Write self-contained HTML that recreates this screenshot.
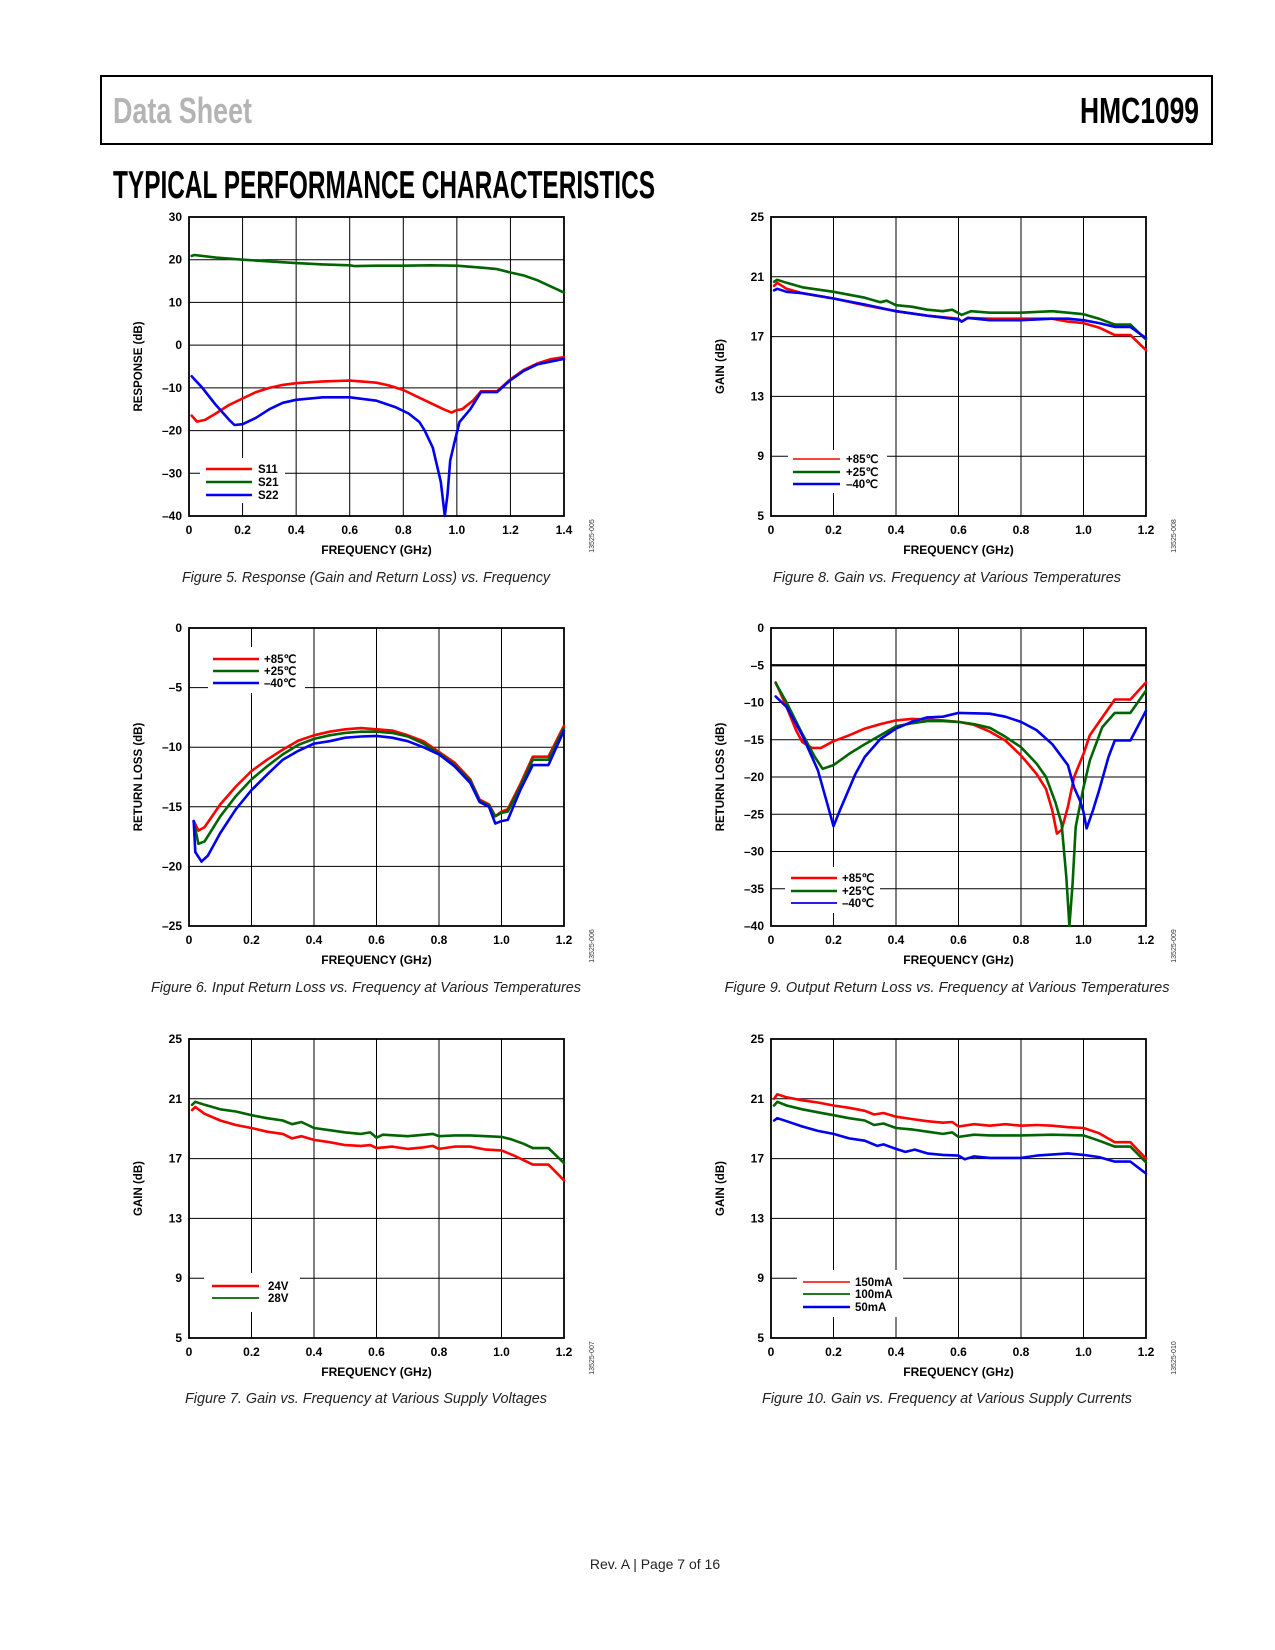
<!DOCTYPE html>
<html><head><meta charset="utf-8"><title>HMC1099 Data Sheet – Typical Performance Characteristics</title>
<style>
html,body{margin:0;padding:0;background:#fff;}
svg{display:block;}
text{font-family:"Liberation Sans",Arial,sans-serif;}
</style></head>
<body>
<svg id="page" width="1275" height="1650" viewBox="0 0 1275 1650" xmlns="http://www.w3.org/2000/svg">
<rect x="101" y="76" width="1111" height="68" fill="none" stroke="#000" stroke-width="2"/>
<text x="113" y="123" font-size="36" font-weight="bold" fill="#b4b4b4" textLength="139" lengthAdjust="spacingAndGlyphs">Data Sheet</text>
<text x="1080" y="123" font-size="36" font-weight="bold" fill="#000" textLength="119" lengthAdjust="spacingAndGlyphs">HMC1099</text>
<text x="113" y="198" font-size="39" font-weight="bold" fill="#000" textLength="542" lengthAdjust="spacingAndGlyphs">TYPICAL PERFORMANCE CHARACTERISTICS</text>
<text x="655" y="1569" font-size="14" fill="#222" text-anchor="middle">Rev. A | Page 7 of 16</text>
</svg>
<script>
// ---------- Figure 5 data ----------
const fig5XTicks=[0,0.2,0.4,0.6,0.8,1.0,1.2,1.4];
const fig5XLabels=["0","0.2","0.4","0.6","0.8","1.0","1.2","1.4"];
const fig5YTicks=[-40,-30,-20,-10,0,10,20,30];
const fig5YLabels=["–40","–30","–20","–10","0","10","20","30"];
const fig5S21F=[0.01,0.02,0.1,0.2,0.3,0.4,0.5,0.6,0.62,0.7,0.8,0.9,1.0,1.1,1.15,1.2,1.25,1.3,1.4];
const fig5S21V=[20.9,21.1,20.5,20.0,19.6,19.2,18.9,18.7,18.5,18.6,18.6,18.7,18.6,18.1,17.8,17.0,16.3,15.2,12.3];
const fig5S11F=[0.01,0.03,0.06,0.1,0.15,0.2,0.25,0.3,0.35,0.4,0.5,0.6,0.7,0.75,0.8,0.85,0.9,0.95,0.98,1.0,1.02,1.06,1.09,1.15,1.2,1.25,1.3,1.35,1.4];
const fig5S11V=[-16.5,-17.9,-17.5,-16.0,-14.0,-12.5,-11.0,-10.0,-9.3,-8.9,-8.5,-8.3,-8.8,-9.5,-10.5,-12.0,-13.5,-15.0,-15.8,-15.2,-15.0,-13.0,-10.8,-10.8,-8.0,-5.8,-4.3,-3.3,-2.8];
const fig5S22F=[0.01,0.05,0.1,0.15,0.17,0.2,0.25,0.3,0.35,0.4,0.5,0.6,0.7,0.77,0.82,0.86,0.88,0.91,0.94,0.955,0.965,0.975,0.99,1.01,1.05,1.09,1.15,1.2,1.25,1.3,1.4];
const fig5S22V=[-7.3,-10.0,-14.0,-17.5,-18.7,-18.5,-17.0,-15.0,-13.5,-12.8,-12.2,-12.2,-13.0,-14.5,-16.0,-18.0,-20.0,-24.0,-32.0,-40.0,-35.0,-27.0,-23.0,-18.0,-15.0,-11.0,-11.0,-8.2,-6.0,-4.5,-3.2];

// ---------- Figure 8 data ----------
const gainXTicks=[0,0.2,0.4,0.6,0.8,1.0,1.2];
const gainXLabels=["0","0.2","0.4","0.6","0.8","1.0","1.2"];
const gainYTicks=[5,9,13,17,21,25];
const gainYLabels=["5","9","13","17","21","25"];
const fig8RedF=[0.01,0.02,0.05,0.1,0.2,0.3,0.35,0.4,0.5,0.6,0.61,0.63,0.7,0.8,0.9,0.95,1.0,1.05,1.1,1.15,1.2];
const fig8RedV=[20.4,20.6,20.2,19.9,19.55,19.1,18.9,18.7,18.4,18.2,18.0,18.25,18.2,18.2,18.2,18.0,17.9,17.6,17.1,17.1,16.1];
const fig8GreenF=[0.01,0.02,0.05,0.1,0.2,0.3,0.35,0.37,0.4,0.45,0.5,0.55,0.58,0.61,0.64,0.7,0.8,0.9,1.0,1.05,1.1,1.15,1.2];
const fig8GreenV=[20.67,20.8,20.6,20.3,20.0,19.6,19.3,19.4,19.1,19.0,18.8,18.7,18.8,18.45,18.7,18.6,18.6,18.7,18.5,18.2,17.8,17.8,16.8];
const fig8BlueF=[0.01,0.02,0.05,0.1,0.2,0.3,0.4,0.5,0.6,0.61,0.63,0.7,0.8,0.9,0.95,1.0,1.05,1.1,1.15,1.2];
const fig8BlueV=[20.1,20.2,20.0,19.9,19.55,19.15,18.7,18.4,18.15,18.0,18.25,18.1,18.1,18.2,18.2,18.1,17.9,17.65,17.65,16.9];

// ---------- Figure 6 data ----------
const fig6XTicks=[0,0.2,0.4,0.6,0.8,1.0,1.2];
const fig6XLabels=["0","0.2","0.4","0.6","0.8","1.0","1.2"];
const fig6YTicks=[-25,-20,-15,-10,-5,0];
const fig6YLabels=["–25","–20","–15","–10","–5","0"];
const fig6RedF=[0.015,0.03,0.05,0.1,0.15,0.2,0.25,0.3,0.35,0.4,0.45,0.5,0.55,0.6,0.65,0.7,0.75,0.8,0.85,0.9,0.93,0.96,0.98,1.0,1.02,1.06,1.1,1.15,1.2];
const fig6RedV=[-16.2,-17.0,-16.7,-14.8,-13.3,-12.0,-11.05,-10.2,-9.45,-9.0,-8.7,-8.5,-8.4,-8.5,-8.6,-9.0,-9.5,-10.4,-11.3,-12.7,-14.4,-14.8,-15.8,-15.4,-15.2,-13.1,-10.8,-10.8,-8.2];
const fig6GreenF=[0.015,0.03,0.05,0.1,0.15,0.2,0.25,0.3,0.35,0.4,0.45,0.5,0.55,0.6,0.65,0.7,0.75,0.8,0.85,0.9,0.93,0.96,0.98,1.0,1.02,1.06,1.1,1.15,1.2];
const fig6GreenV=[-16.2,-18.1,-17.9,-15.8,-14.1,-12.7,-11.6,-10.6,-9.8,-9.3,-9.0,-8.8,-8.7,-8.7,-8.8,-9.1,-9.7,-10.5,-11.5,-12.8,-14.5,-14.9,-15.8,-15.5,-15.4,-13.3,-11.05,-11.05,-8.4];
const fig6BlueF=[0.015,0.02,0.04,0.06,0.1,0.15,0.2,0.25,0.3,0.35,0.4,0.45,0.5,0.55,0.6,0.65,0.7,0.75,0.8,0.85,0.9,0.93,0.96,0.98,1.0,1.02,1.06,1.1,1.15,1.2];
const fig6BlueV=[-16.2,-18.8,-19.6,-19.1,-17.2,-15.2,-13.6,-12.3,-11.05,-10.3,-9.7,-9.5,-9.2,-9.1,-9.05,-9.2,-9.5,-10.0,-10.6,-11.6,-13.0,-14.6,-15.0,-16.4,-16.2,-16.1,-13.6,-11.5,-11.5,-8.6];

// ---------- Figure 9 data ----------
const fig9XTicks=[0,0.2,0.4,0.6,0.8,1.0,1.2];
const fig9XLabels=["0","0.2","0.4","0.6","0.8","1.0","1.2"];
const fig9YTicks=[-40,-35,-30,-25,-20,-15,-10,-5,0];
const fig9YLabels=["–40","–35","–30","–25","–20","–15","–10","–5","0"];
const fig9RedF=[0.015,0.05,0.08,0.1,0.13,0.16,0.2,0.25,0.3,0.35,0.4,0.45,0.5,0.55,0.6,0.65,0.7,0.75,0.8,0.85,0.88,0.9,0.915,0.93,0.95,0.97,1.0,1.02,1.06,1.1,1.15,1.2];
const fig9RedV=[-7.3,-10.6,-13.7,-15.3,-16.1,-16.1,-15.2,-14.4,-13.5,-12.9,-12.4,-12.2,-12.3,-12.4,-12.6,-13.0,-13.9,-15.1,-17.1,-19.6,-21.6,-24.5,-27.6,-27.1,-24.0,-20.0,-16.9,-14.4,-12.0,-9.6,-9.6,-7.3];
const fig9GreenF=[0.015,0.05,0.1,0.14,0.165,0.2,0.25,0.3,0.35,0.4,0.45,0.5,0.55,0.6,0.65,0.7,0.75,0.8,0.85,0.88,0.91,0.93,0.945,0.955,0.965,0.975,1.0,1.02,1.06,1.1,1.15,1.2];
const fig9GreenV=[-7.4,-10.0,-14.2,-17.3,-18.9,-18.4,-16.9,-15.6,-14.4,-13.2,-12.8,-12.5,-12.5,-12.6,-12.9,-13.4,-14.6,-16.0,-18.2,-20.0,-23.4,-26.3,-33.4,-40.0,-34.3,-26.7,-21.4,-17.8,-13.3,-11.4,-11.4,-8.4];
const fig9BlueF=[0.015,0.05,0.1,0.15,0.18,0.2,0.22,0.27,0.3,0.35,0.4,0.45,0.5,0.55,0.6,0.7,0.75,0.8,0.85,0.9,0.95,0.97,0.99,1.0,1.01,1.03,1.05,1.08,1.1,1.15,1.2];
const fig9BlueV=[-9.2,-10.6,-14.4,-19.1,-23.6,-26.6,-24.5,-19.6,-17.3,-14.9,-13.5,-12.6,-12.0,-11.9,-11.4,-11.5,-11.9,-12.6,-13.7,-15.6,-18.4,-21.4,-23.3,-24.7,-26.9,-24.5,-21.8,-17.3,-15.1,-15.1,-11.1];

// ---------- Figure 7 data ----------
const fig7RedF=[0.01,0.02,0.05,0.1,0.15,0.2,0.25,0.3,0.33,0.36,0.4,0.45,0.5,0.55,0.58,0.6,0.65,0.7,0.75,0.78,0.8,0.85,0.9,0.95,1.0,1.04,1.1,1.15,1.2];
const fig7RedV=[20.25,20.45,20.0,19.55,19.25,19.05,18.8,18.65,18.35,18.5,18.25,18.1,17.9,17.85,17.9,17.7,17.8,17.65,17.75,17.85,17.65,17.8,17.8,17.6,17.55,17.2,16.6,16.6,15.55];
const fig7GreenF=[0.01,0.02,0.05,0.1,0.15,0.2,0.25,0.3,0.33,0.36,0.4,0.45,0.5,0.55,0.58,0.6,0.62,0.7,0.78,0.8,0.85,0.9,1.0,1.03,1.07,1.1,1.15,1.2];
const fig7GreenV=[20.6,20.8,20.6,20.3,20.15,19.9,19.7,19.55,19.3,19.45,19.05,18.9,18.75,18.65,18.75,18.4,18.6,18.5,18.65,18.5,18.55,18.55,18.45,18.3,18.0,17.7,17.7,16.7];

// ---------- Figure 10 data ----------
const fig10RedF=[0.01,0.02,0.05,0.1,0.15,0.2,0.25,0.3,0.33,0.36,0.4,0.45,0.5,0.55,0.58,0.6,0.65,0.7,0.75,0.8,0.85,0.9,0.95,1.0,1.05,1.1,1.15,1.2];
const fig10RedV=[21.0,21.3,21.1,20.9,20.75,20.55,20.4,20.2,19.95,20.05,19.8,19.65,19.5,19.4,19.45,19.15,19.3,19.2,19.3,19.2,19.25,19.2,19.1,19.05,18.7,18.1,18.1,17.0];
const fig10GreenF=[0.01,0.02,0.05,0.1,0.15,0.2,0.25,0.3,0.33,0.36,0.4,0.45,0.5,0.55,0.58,0.6,0.65,0.7,0.8,0.9,1.0,1.05,1.1,1.15,1.2];
const fig10GreenV=[20.55,20.8,20.55,20.3,20.1,19.9,19.7,19.55,19.25,19.35,19.05,18.95,18.8,18.65,18.75,18.45,18.6,18.55,18.55,18.6,18.55,18.2,17.8,17.8,16.75];
const fig10BlueF=[0.01,0.02,0.05,0.1,0.15,0.2,0.25,0.3,0.34,0.36,0.4,0.43,0.46,0.5,0.55,0.6,0.62,0.65,0.7,0.75,0.8,0.85,0.95,1.0,1.05,1.1,1.15,1.2];
const fig10BlueV=[19.55,19.7,19.5,19.15,18.85,18.65,18.35,18.2,17.85,17.95,17.65,17.45,17.6,17.35,17.25,17.2,16.95,17.15,17.05,17.05,17.05,17.2,17.35,17.25,17.1,16.8,16.8,16.0];

const RED="#ff0000",GREEN="#006400",BLUE="#0000ee";
const NS="http://www.w3.org/2000/svg";
const svg=document.getElementById('page');
function mk(tag,attrs,parent){const e=document.createElementNS(NS,tag);for(const k in attrs)e.setAttribute(k,attrs[k]);(parent||svg).appendChild(e);return e;}

function drawChart(c){
  const g=mk('g',{});
  
  
  const L=c.l,R=c.r,T=c.t,B=c.b;
  const sx=f=>L+(f-c.xMin)/(c.xMax-c.xMin)*(R-L);
  const sy=v=>B-(v-c.yMin)/(c.yMax-c.yMin)*(B-T);
  c.xTicks.forEach((t,i)=>{
    const ln=mk('line',{x1:sx(t),x2:sx(t),y1:T,y2:B,stroke:'#000','stroke-width':1},g);
    
    
    const tx=mk('text',{x:sx(t),y:B+18,'font-size':12,'font-weight':'bold','text-anchor':'middle'},g);
    tx.textContent=c.xLabels[i];
    
    
  });
  c.yTicks.forEach((t,i)=>{
    const bold=(c.boldY!==undefined&&t===c.boldY);
    const ln=mk('line',{x1:L,x2:R,y1:sy(t),y2:sy(t),stroke:'#000','stroke-width':bold?2.2:1},g);
    
    
    const tx=mk('text',{x:L-7,y:sy(t)+4,'font-size':12,'font-weight':'bold','text-anchor':'end'},g);
    tx.textContent=c.yLabels[i];
    
    
  });
  const fr=mk('rect',{x:L,y:T,width:R-L,height:B-T,fill:'none',stroke:'#000','stroke-width':1.8},g);
  
  
  const lg=c.legend;
  const lb=mk('rect',{x:lg.x,y:lg.y,width:lg.w,height:lg.h,fill:'#fff'},g);
  
  
  c.series.forEach(s=>{
    const pts=s.f.map((f,i)=>sx(f).toFixed(1)+','+sy(s.v[i]).toFixed(1)).join(' ');
    const pl=mk('polyline',{points:pts,fill:'none',stroke:s.color,'stroke-width':2.6,'stroke-linejoin':'round','stroke-linecap':'round'},g);
    
    
  });
  c.series.forEach((s,i)=>{
    const yy=lg.rows[i];
    const ll=mk('line',{x1:lg.lx1,x2:lg.lx2,y1:yy,y2:yy,stroke:s.color,'stroke-width':s.lw||2.6},g);
    
    
    const lt=mk('text',{x:lg.tx,y:yy+4,'font-size':11.5,'font-weight':'bold'},g);
    lt.textContent=s.label;
    
    
  });
  const xt=mk('text',{x:(L+R)/2,y:B+38,'font-size':12,'font-weight':'bold','text-anchor':'middle'},g);
  xt.textContent='FREQUENCY (GHz)';
  
  
  const yt=mk('text',{x:0,y:0,'font-size':11.5,'font-weight':'bold','text-anchor':'middle',transform:`translate(${L-47},${(T+B)/2}) rotate(-90)`},g);
  yt.textContent=c.yTitle;
  
  
  const code=mk('text',{x:0,y:0,'font-size':7,fill:'#333','text-anchor':'middle',transform:`translate(${R+30},${B+20}) rotate(-90)`},g);
  code.textContent=c.code;
  
  
  const cap=mk('text',{x:c.capX,y:c.capY,'font-size':14.4,'font-style':'italic',fill:'#222','text-anchor':'middle',textLength:c.capW,lengthAdjust:'spacingAndGlyphs'},g);
  cap.textContent=c.caption;
  
  
}
const tempLabels=["+85℃","+25℃","–40℃"];
drawChart({name:'figure-5-chart',l:189,r:564,t:217,b:516,xMin:0,xMax:1.4,yMin:-40,yMax:30,
  xTicks:fig5XTicks,xLabels:fig5XLabels,yTicks:fig5YTicks,yLabels:fig5YLabels,yTitle:'RESPONSE (dB)',code:'13525-005',
  caption:'Figure 5. Response (Gain and Return Loss) vs. Frequency',capX:366,capY:582,capW:368,
  legend:{x:200,y:458,w:85,h:45,lx1:206,lx2:252,tx:258,rows:[469,482,495]},
  series:[{id:'s11-line',f:fig5S11F,v:fig5S11V,color:RED,label:'S11'},{id:'s21-line',f:fig5S21F,v:fig5S21V,color:GREEN,label:'S21'},{id:'s22-line',f:fig5S22F,v:fig5S22V,color:BLUE,label:'S22'}]});
drawChart({name:'figure-8-chart',l:771,r:1146,t:217,b:516,xMin:0,xMax:1.2,yMin:5,yMax:25,
  xTicks:gainXTicks,xLabels:gainXLabels,yTicks:gainYTicks,yLabels:gainYLabels,yTitle:'GAIN (dB)',code:'13525-008',
  caption:'Figure 8. Gain vs. Frequency at Various Temperatures',capX:947,capY:582,capW:348,
  legend:{x:788,y:450,w:99,h:43,lx1:793,lx2:840,tx:846,rows:[459,472,484]},
  series:[{id:'plus85c-line',f:fig8RedF,v:fig8RedV,color:RED,label:tempLabels[0],lw:1.6},{id:'plus25c-line',f:fig8GreenF,v:fig8GreenV,color:GREEN,label:tempLabels[1]},{id:'minus40c-line',f:fig8BlueF,v:fig8BlueV,color:BLUE,label:tempLabels[2]}]});
drawChart({name:'figure-6-chart',l:189,r:564,t:628,b:926,xMin:0,xMax:1.2,yMin:-25,yMax:0,
  xTicks:fig6XTicks,xLabels:fig6XLabels,yTicks:fig6YTicks,yLabels:fig6YLabels,yTitle:'RETURN LOSS (dB)',code:'13525-006',
  caption:'Figure 6. Input Return Loss vs. Frequency at Various Temperatures',capX:366,capY:992,capW:430,
  legend:{x:208,y:647,w:97,h:46,lx1:213,lx2:259,tx:264,rows:[659,671,683]},
  series:[{id:'plus85c-line',f:fig6RedF,v:fig6RedV,color:RED,label:tempLabels[0]},{id:'plus25c-line',f:fig6GreenF,v:fig6GreenV,color:GREEN,label:tempLabels[1]},{id:'minus40c-line',f:fig6BlueF,v:fig6BlueV,color:BLUE,label:tempLabels[2]}]});
drawChart({name:'figure-9-chart',l:771,r:1146,t:628,b:926,xMin:0,xMax:1.2,yMin:-40,yMax:0,boldY:-5,
  xTicks:fig9XTicks,xLabels:fig9XLabels,yTicks:fig9YTicks,yLabels:fig9YLabels,yTitle:'RETURN LOSS (dB)',code:'13525-009',
  caption:'Figure 9. Output Return Loss vs. Frequency at Various Temperatures',capX:947,capY:992,capW:445,
  legend:{x:785,y:867,w:95,h:46,lx1:791,lx2:837,tx:842,rows:[878,891,903]},
  series:[{id:'plus85c-line',f:fig9RedF,v:fig9RedV,color:RED,label:tempLabels[0]},{id:'plus25c-line',f:fig9GreenF,v:fig9GreenV,color:GREEN,label:tempLabels[1]},{id:'minus40c-line',f:fig9BlueF,v:fig9BlueV,color:BLUE,label:tempLabels[2],lw:1.8}]});
drawChart({name:'figure-7-chart',l:189,r:564,t:1039,b:1338,xMin:0,xMax:1.2,yMin:5,yMax:25,
  xTicks:gainXTicks,xLabels:gainXLabels,yTicks:gainYTicks,yLabels:gainYLabels,yTitle:'GAIN (dB)',code:'13525-007',
  caption:'Figure 7. Gain vs. Frequency at Various Supply Voltages',capX:366,capY:1403,capW:362,
  legend:{x:204,y:1273,w:96,h:39,lx1:212,lx2:259,tx:268,rows:[1286,1298]},
  series:[{id:'24v-line',f:fig7RedF,v:fig7RedV,color:RED,label:'24V'},{id:'28v-line',f:fig7GreenF,v:fig7GreenV,color:GREEN,label:'28V',lw:1.8}]});
drawChart({name:'figure-10-chart',l:771,r:1146,t:1039,b:1338,xMin:0,xMax:1.2,yMin:5,yMax:25,
  xTicks:gainXTicks,xLabels:gainXLabels,yTicks:gainYTicks,yLabels:gainYLabels,yTitle:'GAIN (dB)',code:'13525-010',
  caption:'Figure 10. Gain vs. Frequency at Various Supply Currents',capX:947,capY:1403,capW:370,
  legend:{x:797,y:1270,w:106,h:47,lx1:803,lx2:850,tx:855,rows:[1282,1294,1307]},
  series:[{id:'150ma-line',f:fig10RedF,v:fig10RedV,color:RED,label:'150mA',lw:1.6},{id:'100ma-line',f:fig10GreenF,v:fig10GreenV,color:GREEN,label:'100mA',lw:1.8},{id:'50ma-line',f:fig10BlueF,v:fig10BlueV,color:BLUE,label:'50mA'}]});
</script>
</body></html>
